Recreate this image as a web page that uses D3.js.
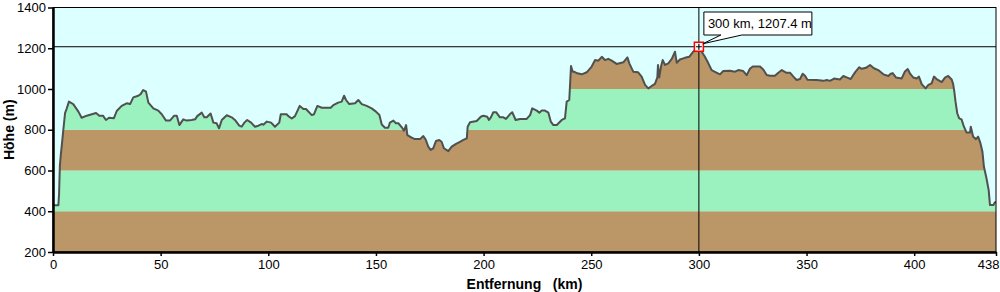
<!DOCTYPE html>
<html>
<head>
<meta charset="utf-8">
<script src="https://cdn.jsdelivr.net/npm/d3@7"></script>
<style>
body { margin: 0; background: #fff; }
svg text { font-family: "Liberation Sans", Arial, sans-serif; }
</style>
</head>
<body>
<div id="chart"></div>
<script>
// profile
var distKm = [0, 2.5, 2.8, 3.2, 3.7, 4.0, 4.8, 5.6, 6.4, 7.4, 9.4, 11.8, 13.3, 15.7, 20.0, 21.5, 23.2, 24.6, 26.0, 28.3,
	29.6, 31.9, 34.2, 35.8, 37.3, 39.6, 40.7, 41.9, 43.2, 44.3, 46.6, 48.9, 50.5, 52.5, 54.3, 56.3, 57.5, 58.7, 60.5, 62.1,
	64.4, 66.0, 67.0, 69.1, 70.3, 71.4, 73.2, 74.5, 76.0, 77.1, 78.4, 80.7, 83.0, 84.5, 86.5, 87.6, 88.9, 90.2, 92.0, 93.8,
	95.4, 96.9, 97.7, 99.3, 101.3, 103.1, 105.1, 105.8, 108.5, 109.3, 110.9, 112.4, 114.6, 116.3, 117.5, 120.2, 121.2, 122.8, 124.8, 129.0,
	130.2, 132.5, 134.1, 135.2, 136.1, 137.6, 140.3, 141.8, 143.4, 145.7, 148.0, 150.0, 151.6, 152.7, 154.2, 155.7, 156.5, 158.1, 159.3, 160.4,
	162.0, 163.0, 164.0, 164.6, 166.6, 168.1, 170.5, 172.0, 173.1, 174.3, 175.4, 176.6, 177.9, 179.4, 180.5, 181.6, 183.6, 185.2, 187.2, 189.0,
	190.6, 192.2, 192.6, 193.7, 196.8, 198.7, 199.9, 201.7, 202.5, 203.4, 204.5, 205.8, 207.6, 209.2, 210.4, 212.3, 213.3, 214.9, 216.9, 220.0,
	221.6, 222.6, 224.7, 225.9, 227.0, 228.5, 230.1, 231.2, 232.4, 234.0, 236.3, 237.8, 238.6, 239.8, 240.6, 241.4, 242.0, 243.5, 245.6, 247.9,
	250.2, 251.8, 253.3, 254.9, 256.4, 257.9, 259.5, 261.8, 264.9, 266.8, 267.7, 269.5, 271.8, 273.4, 275.0, 276.5, 278.1, 279.6, 280.7, 281.0,
	281.6, 282.4, 283.2, 284.3, 285.8, 287.4, 288.9, 289.7, 291.2, 293.5, 295.5, 297.4, 299.0, 300.0, 300.8, 302.8, 304.4, 305.9, 307.9, 309.8,
	311.3, 314.4, 316.8, 318.3, 320.6, 322.2, 323.7, 325.0, 328.4, 329.9, 331.5, 333.0, 335.3, 336.9, 338.5, 340.5, 342.3, 343.9, 345.4, 347.0,
	348.2, 349.3, 350.4, 354.7, 357.8, 359.4, 360.9, 362.8, 365.5, 367.1, 368.9, 370.5, 372.6, 374.5, 375.6, 377.6, 379.5, 381.3, 383.3, 385.7,
	388.0, 389.1, 390.0, 391.6, 394.2, 395.7, 397.0, 398.1, 399.6, 401.2, 402.2, 403.5, 405.3, 406.6, 408.1, 409.2, 410.4, 412.8, 414.3, 415.8,
	417.4, 418.1, 418.6, 419.2, 420.0, 420.9, 422.0, 423.1, 424.3, 425.9, 426.3, 427.4, 428.7, 429.7, 430.8, 431.7, 432.4, 433.6, 434.6, 435.2,
	436.8, 437.5, 438];
var elevM = [430, 430, 480, 627, 686, 715, 800, 882, 905, 938, 926, 889, 859, 869, 882, 869, 869, 848, 859, 857,
	892, 917, 930, 926, 959, 967, 975, 995, 987, 933, 905, 894, 876, 845, 845, 869, 869, 823, 851, 845,
	848, 851, 867, 884, 861, 861, 880, 835, 832, 807, 848, 871, 861, 848, 820, 815, 835, 848, 835, 815,
	820, 828, 825, 840, 835, 815, 835, 876, 876, 867, 855, 867, 917, 902, 902, 872, 876, 917, 908, 908,
	921, 933, 938, 967, 946, 926, 930, 946, 926, 917, 905, 889, 872, 826, 810, 810, 835, 845, 832, 832,
	812, 795, 823, 774, 761, 754, 754, 769, 752, 717, 701, 709, 745, 750, 741, 709, 695, 717, 731, 741,
	750, 758, 815, 837, 843, 864, 869, 864, 848, 861, 886, 886, 861, 861, 853, 877, 886, 848, 853, 853,
	872, 905, 894, 884, 894, 894, 884, 840, 823, 823, 848, 856, 938, 946, 1113, 1085, 1085, 1077, 1072, 1082,
	1110, 1142, 1139, 1158, 1142, 1148, 1139, 1123, 1131, 1155, 1126, 1085, 1082, 1061, 1020, 1003, 1015, 1025, 1057, 1118,
	1057, 1110, 1142, 1118, 1126, 1148, 1183, 1129, 1145, 1153, 1158, 1183, 1200, 1207.4, 1191, 1158, 1126, 1093, 1082, 1072,
	1088, 1090, 1085, 1093, 1088, 1068, 1099, 1110, 1110, 1096, 1069, 1065, 1065, 1080, 1093, 1080, 1080, 1061, 1044, 1049,
	1075, 1065, 1045, 1044, 1040, 1044, 1040, 1051, 1047, 1064, 1056, 1049, 1083, 1107, 1099, 1104, 1118, 1102, 1093, 1072,
	1064, 1075, 1078, 1056, 1052, 1086, 1098, 1075, 1056, 1052, 1061, 1024, 1003, 1020, 1028, 1061, 1049, 1034, 1056, 1064,
	1047, 1024, 991, 938, 881, 856, 851, 815, 787, 786, 815, 766, 754, 766, 733, 692, 618, 561, 504, 431,
	431, 444, 444];

var xTicks = [0, 50, 100, 150, 200, 250, 300, 350, 400, 438];
var yTicks = [200, 400, 600, 800, 1000, 1200, 1400];
var markKm = 300, markM = 1207.4;
var markLabel = '300 km, 1207.4 m';

var width = 1000, height = 292;
var margin = {top: 7.5, right: 4, bottom: 40, left: 53};

var x = d3.scaleLinear().domain([0, 438]).range([margin.left, width - margin.right]);
var y = d3.scaleLinear().domain([200, 1400]).range([height - margin.bottom, margin.top]);

var pts = distKm.map(function(d, i){ return [d, elevM[i]]; });

var svg = d3.select('#chart').append('svg')
	.attr('width', width).attr('height', height);

// plot background
svg.append('rect')
	.attr('x', x(0)).attr('y', y(1400))
	.attr('width', x(438) - x(0)).attr('height', y(200) - y(1400))
	.attr('fill', '#dcffff');

var area = d3.area()
	.x(function(d){ return x(d[0]); })
	.y0(y(200))
	.y1(function(d){ return y(d[1]); });

svg.append('clipPath').attr('id', 'ground')
	.append('path').attr('d', area(pts));

// elevation bands under the profile
var bands = d3.pairs(yTicks);
svg.append('g').attr('clip-path', 'url(#ground)')
	.selectAll('rect').data(bands).enter().append('rect')
	.attr('x', x(0))
	.attr('width', x(438) - x(0))
	.attr('y', function(d){ return y(d[1]); })
	.attr('height', function(d){ return y(d[0]) - y(d[1]); })
	.attr('fill', function(d, i){ return i % 2 == 0 ? '#bb9667' : '#9bf2bf'; });

var line = d3.line()
	.x(function(d){ return x(d[0]); })
	.y(function(d){ return y(d[1]); });

svg.append('path')
	.attr('d', line(pts))
	.attr('fill', 'none')
	.attr('stroke', '#505050')
	.attr('stroke-width', 2)
	.attr('stroke-linejoin', 'round');

// crosshair through the marked point
var mx = x(markKm), my = y(markM);
svg.append('line')
	.attr('x1', mx).attr('x2', mx).attr('y1', y(1400)).attr('y2', y(200))
	.attr('stroke', '#000').attr('stroke-width', 1);
svg.append('line')
	.attr('x1', x(0)).attr('x2', x(438)).attr('y1', my).attr('y2', my)
	.attr('stroke', '#000').attr('stroke-width', 1);

// frame top / right
svg.append('rect')
	.attr('x', x(0)).attr('y', y(1400))
	.attr('width', x(438) - x(0)).attr('height', y(200) - y(1400))
	.attr('fill', 'none').attr('stroke', '#000').attr('stroke-width', 1);

// marker
svg.append('rect')
	.attr('x', mx - 4.5).attr('y', my - 4.5).attr('width', 9).attr('height', 9)
	.attr('fill', '#fff').attr('stroke', '#f00').attr('stroke-width', 1.5);
svg.append('path')
	.attr('d', 'M' + (mx - 3) + ',' + my + 'H' + (mx + 3) + 'M' + mx + ',' + (my - 3) + 'V' + (my + 3))
	.attr('stroke', '#000').attr('stroke-width', 1.2);

// label bubble
var bx = mx + 5, by = 12, bw = 108, bh = 23;
svg.append('path')
	.attr('d', 'M' + bx + ',' + by + 'H' + (bx + bw) + 'V' + (by + bh) +
		'H' + (bx + 38) + 'L' + (mx + 4) + ',' + (my - 3) + 'L' + (bx + 17) + ',' + (by + bh) +
		'H' + bx + 'Z')
	.attr('fill', '#fff').attr('stroke', '#000').attr('stroke-width', 1);
svg.append('text')
	.attr('x', bx + 4).attr('y', by + 16)
	.attr('font-size', 13)
	.text(markLabel);

// axes
var yAxis = d3.axisLeft(y).tickValues(yTicks).tickFormat(d3.format('d'))
	.tickSize(5).tickSizeOuter(0).tickPadding(2);
var xAxis = d3.axisBottom(x).tickValues(xTicks).tickFormat(d3.format('d'))
	.tickSize(4).tickSizeOuter(0).tickPadding(4);

var gy = svg.append('g').attr('transform', 'translate(' + x(0) + ',0)').call(yAxis);
var gx = svg.append('g').attr('transform', 'translate(0,' + y(200) + ')').call(xAxis);

[gy, gx].forEach(function(g){
	g.select('.domain').attr('stroke-width', 2.5);
	g.selectAll('.tick line').attr('stroke-width', 1.5);
	g.selectAll('.tick text').attr('font-size', 13).attr('fill', '#000')
		.style('font-family', '"Liberation Sans", Arial, sans-serif');
});

// last distance label sits flush with the right edge
gx.selectAll('.tick text')
	.filter(function(d){ return d == 438; })
	.attr('text-anchor', 'end').attr('x', 3);

svg.append('text')
	.attr('transform', 'translate(14,' + ((y(200) + y(1400)) / 2) + ') rotate(-90)')
	.attr('text-anchor', 'middle')
	.attr('font-size', 14).attr('font-weight', 'bold')
	.text('Höhe (m)');

svg.append('text')
	.attr('x', (x(0) + x(438)) / 2).attr('y', 289)
	.attr('text-anchor', 'middle')
	.attr('font-size', 14).attr('font-weight', 'bold')
	.style('white-space', 'pre')
	.text('Entfernung   (km)');
</script>
</body>
</html>
